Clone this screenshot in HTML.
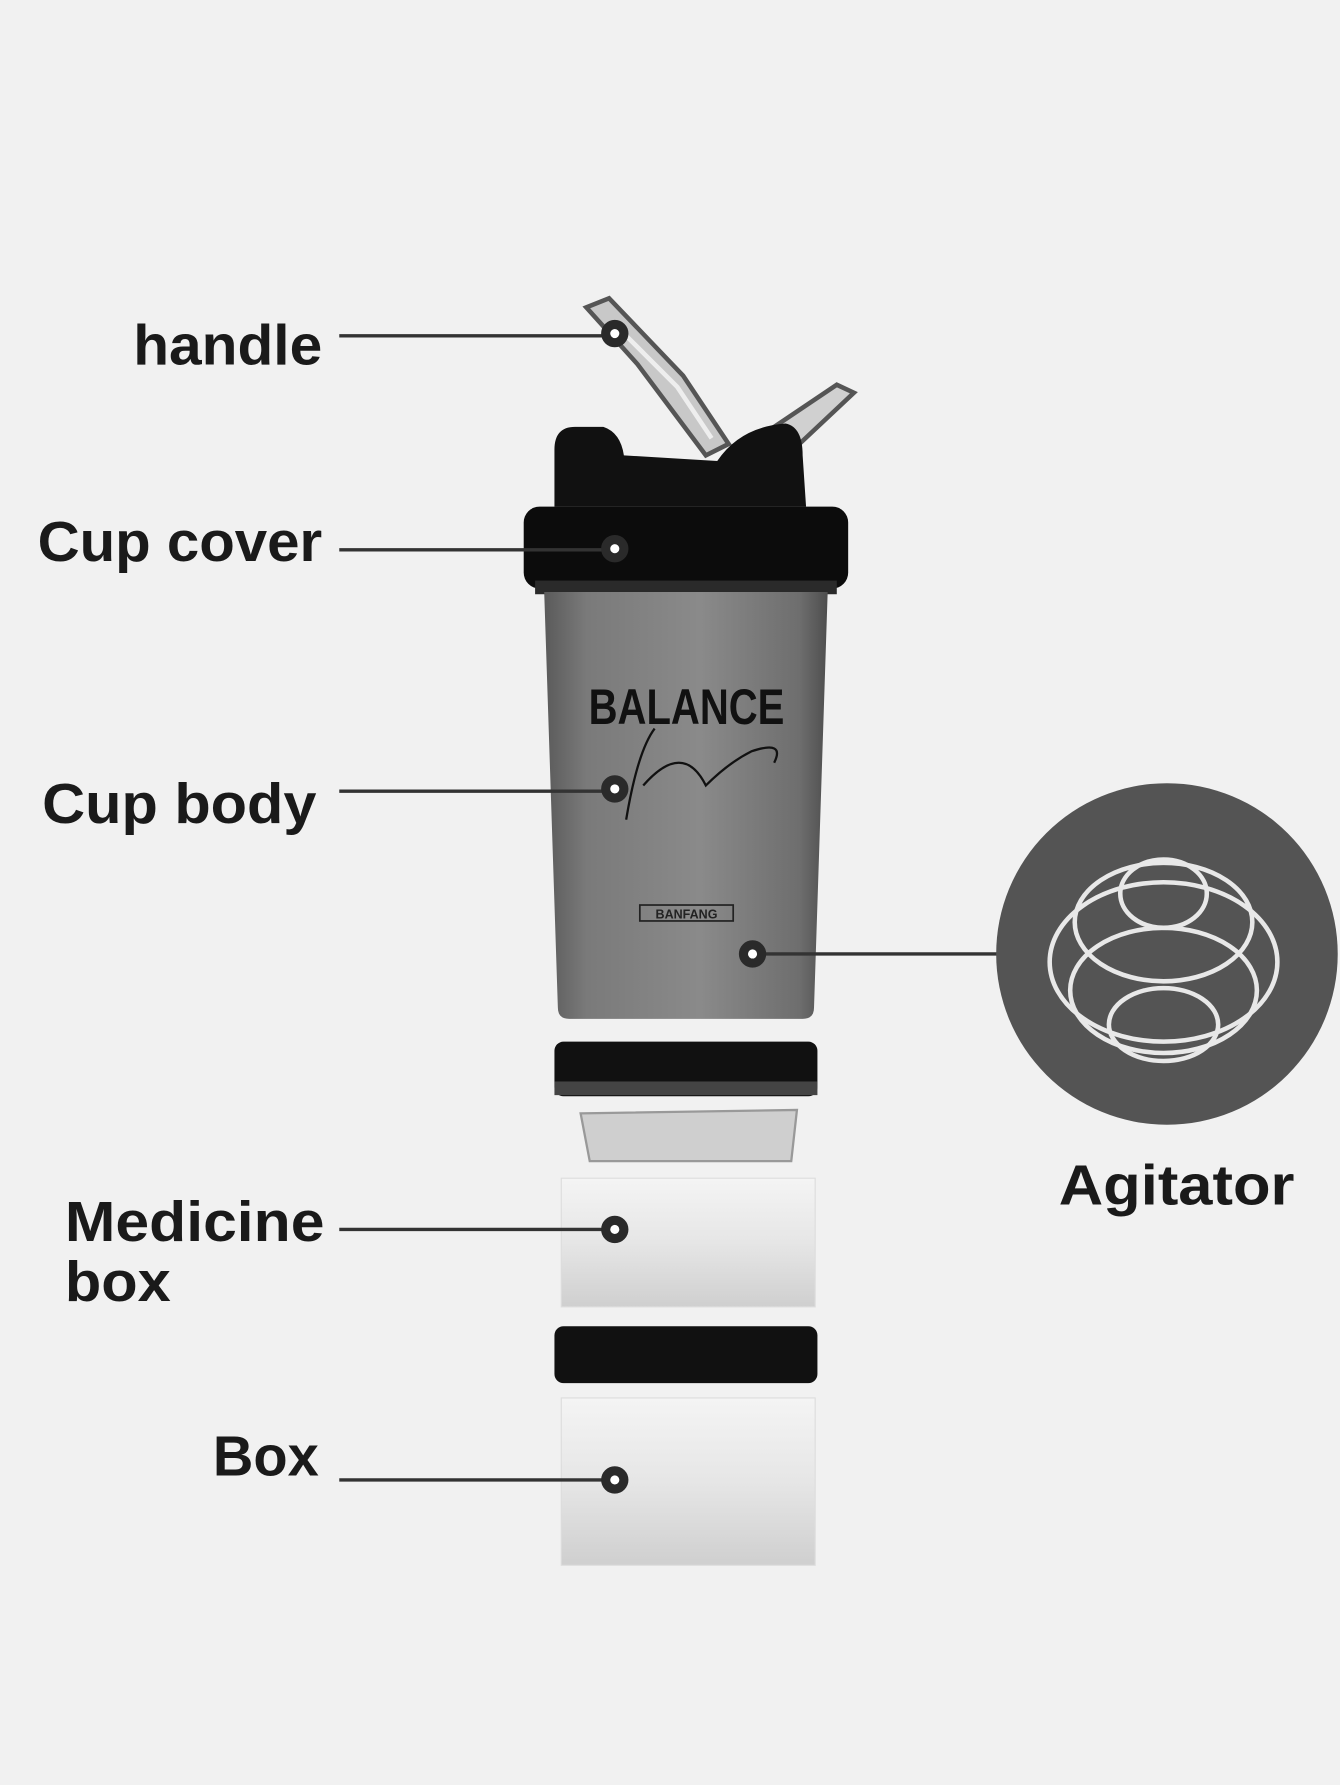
<!DOCTYPE html>
<html><head><meta charset="utf-8"><style>
html,body{margin:0;padding:0;background:#f1f1f1;}
svg{display:block}
text{font-family:"Liberation Sans",sans-serif;font-weight:bold;fill:#1a1a1a;}
</style></head><body>
<svg width="1340" height="1785" viewBox="0 0 1177 1568" preserveAspectRatio="none">
<defs>
<linearGradient id="body" x1="0" x2="1" y1="0" y2="0">
<stop offset="0" stop-color="#5a5a5a"/><stop offset="0.15" stop-color="#7a7a7a"/><stop offset="0.55" stop-color="#8a8a8a"/><stop offset="0.9" stop-color="#6e6e6e"/><stop offset="1" stop-color="#4e4e4e"/>
</linearGradient>
<linearGradient id="clear" x1="0" x2="0" y1="0" y2="1">
<stop offset="0" stop-color="#f4f4f4"/><stop offset="0.5" stop-color="#e6e6e6"/><stop offset="1" stop-color="#cfcfcf"/>
</linearGradient>
</defs>
<rect width="1177" height="1568" fill="#f1f1f1"/>
<!-- handle -->
<path d="M515 270 L535 262 L600 330 L640 390 L620 400 L560 320 Z" fill="#c8c8c8" stroke="#555" stroke-width="4"/>
<path d="M540 285 L595 340 L625 385" stroke="#eee" stroke-width="4" fill="none"/>
<path d="M680 375 L735 338 L750 345 L700 392 Z" fill="#d0d0d0" stroke="#555" stroke-width="4"/>
<!-- lid top -->
<path d="M487 395 Q487 375 505 375 L530 375 Q545 380 548 400 L630 405 Q650 375 690 372 Q705 375 705 400 L708 445 L487 445 Z" fill="#111"/>
<rect x="460" y="445" width="285" height="72" rx="14" fill="#0c0c0c"/>
<rect x="470" y="510" width="265" height="12" fill="#2a2a2a"/>
<!-- body -->
<path d="M478 520 L727 520 L715 885 Q715 895 705 895 L500 895 Q490 895 490 885 Z" fill="url(#body)"/>
<text x="603" y="636" font-size="44" text-anchor="middle" textLength="172" lengthAdjust="spacingAndGlyphs" style="fill:#111">BALANCE</text>
<path d="M550 720 Q560 660 575 640 M565 690 Q600 650 620 690 Q640 670 660 660 Q690 650 680 670" stroke="#111" stroke-width="2" fill="none"/>
<rect x="562" y="795" width="82" height="14" fill="none" stroke="#222" stroke-width="1.5"/>
<text x="603" y="807" font-size="11" text-anchor="middle" style="fill:#222">BANFANG</text>
<!-- rings -->
<rect x="487" y="915" width="231" height="48" rx="8" fill="#111"/>
<rect x="487" y="950" width="231" height="12" fill="#444"/>
<path d="M510 978 L700 975 L695 1020 L518 1020 Z" fill="#cfcfcf" stroke="#999" stroke-width="2"/>
<rect x="493" y="1035" width="223" height="113" fill="url(#clear)" stroke="#ddd"/>
<rect x="487" y="1165" width="231" height="50" rx="8" fill="#111"/>
<rect x="493" y="1228" width="223" height="147" fill="url(#clear)" stroke="#ddd"/>
<!-- labels and lines -->
<g stroke="#333" stroke-width="3">
<line x1="298" y1="295" x2="530" y2="295"/>
<line x1="298" y1="483" x2="530" y2="483"/>
<line x1="298" y1="695" x2="530" y2="695"/>
<line x1="298" y1="1080" x2="530" y2="1080"/>
<line x1="298" y1="1300" x2="530" y2="1300"/>
<line x1="665" y1="838" x2="878" y2="838"/>
</g>
<g fill="#fff" stroke="#2a2a2a" stroke-width="8">
<circle cx="540" cy="293" r="8"/><circle cx="540" cy="482" r="8"/><circle cx="540" cy="693" r="8"/>
<circle cx="540" cy="1080" r="8"/><circle cx="540" cy="1300" r="8"/><circle cx="661" cy="838" r="8"/>
</g>
<text x="283" y="320" font-size="50" text-anchor="end" textLength="166" lengthAdjust="spacingAndGlyphs">handle</text>
<text x="283" y="493" font-size="50" text-anchor="end" textLength="250" lengthAdjust="spacingAndGlyphs">Cup cover</text>
<text x="278" y="723" font-size="50" text-anchor="end" textLength="241" lengthAdjust="spacingAndGlyphs">Cup body</text>
<text x="57" y="1090" font-size="50" textLength="228" lengthAdjust="spacingAndGlyphs">Medicine</text>
<text x="57" y="1143" font-size="50" textLength="93" lengthAdjust="spacingAndGlyphs">box</text>
<text x="280" y="1296" font-size="50" text-anchor="end" textLength="93" lengthAdjust="spacingAndGlyphs">Box</text>
<text x="930" y="1058" font-size="50" textLength="207" lengthAdjust="spacingAndGlyphs">Agitator</text>
<!-- agitator -->
<circle cx="1025" cy="838" r="150" fill="#545454"/>
<g fill="none" stroke="#e8e8e8" stroke-width="4">
<ellipse cx="1022" cy="785" rx="38" ry="30"/>
<ellipse cx="1022" cy="810" rx="78" ry="52"/>
<ellipse cx="1022" cy="845" rx="100" ry="70"/>
<ellipse cx="1022" cy="870" rx="82" ry="55"/>
<ellipse cx="1022" cy="900" rx="48" ry="32"/>
</g>
</svg>
</body></html>
